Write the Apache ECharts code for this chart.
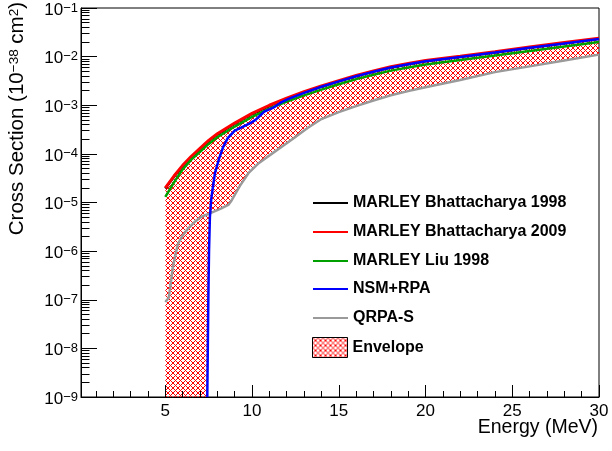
<!DOCTYPE html>
<html><head><meta charset="utf-8">
<script src="https://cdn.jsdelivr.net/npm/echarts@6/dist/echarts.min.js"></script>
<style>html,body{margin:0;padding:0;background:#fff}#c{width:612px;height:451px}</style>
</head><body><div id="c"></div>
<script>
// ---------- data ----------
const marleyE   = [5,5.5,6,6.5,7,7.5,8,9,10,11,12,13,14,15,16,17,18,19,20,22,24,26,28,30];
const bhat1998  = [1.94e-5,3.4e-5,5.6e-5,8.6e-5,1.26e-4,1.84e-4,2.52e-4,4.17e-4,6.6e-4,9.7e-4,1.36e-3,1.84e-3,2.42e-3,3.1e-3,3.98e-3,4.95e-3,6.0e-3,7.0e-3,8.05e-3,9.9e-3,1.22e-2,1.53e-2,1.89e-2,2.33e-2];
const bhat2009  = [2.0e-5,3.5e-5,5.8e-5,8.9e-5,1.3e-4,1.9e-4,2.6e-4,4.3e-4,6.8e-4,1.0e-3,1.4e-3,1.9e-3,2.5e-3,3.2e-3,4.1e-3,5.1e-3,6.2e-3,7.2e-3,8.3e-3,1.02e-2,1.26e-2,1.58e-2,1.95e-2,2.4e-2];
const liu1998   = [1.3e-5,2.6e-5,4.8e-5,7.6e-5,1.1e-4,1.6e-4,2.2e-4,3.65e-4,5.75e-4,8.5e-4,1.19e-3,1.6e-3,2.1e-3,2.7e-3,3.45e-3,4.25e-3,5.15e-3,6.0e-3,6.9e-3,8.5e-3,1.05e-2,1.31e-2,1.62e-2,2.0e-2];
const nsmE      = [7.42,7.45,7.48,7.52,7.57,7.65,7.86,8.1,8.34,8.6,9.0,9.4,9.9,10.2,10.5,10.7,11.2,11.6,12.1,13,14,15,16,17,18,19,20,22,24,26,28,30];
const nsmRpa    = [1e-9,1e-8,1e-7,1e-6,5e-6,1.2e-5,4e-5,8e-5,1.4e-4,2.1e-4,3.0e-4,3.5e-4,4.3e-4,5.0e-4,6.3e-4,7.4e-4,8.8e-4,1.1e-3,1.35e-3,1.8e-3,2.4e-3,3.1e-3,3.95e-3,4.9e-3,6.0e-3,6.95e-3,8.0e-3,9.8e-3,1.21e-2,1.52e-2,1.87e-2,2.3e-2];
const qrpaE     = [5.0,5.2,5.3,5.44,5.6,5.73,6.0,6.31,6.7,7.08,7.57,8.2,8.63,8.82,9.3,9.79,10.4,11.13,12.4,13.2,14,15,16,17,18,19,20,22,24,26,28,30];
const qrpaS     = [9e-8,1.1e-7,2.0e-7,4.8e-7,9e-7,1.4e-6,2.1e-6,2.9e-6,4.0e-6,5.1e-6,6e-6,7.5e-6,8.9e-6,1.1e-5,2.2e-5,4e-5,6.5e-5,1.0e-4,2.1e-4,3.4e-4,5.2e-4,7.2e-4,9.6e-4,1.25e-3,1.6e-3,1.95e-3,2.35e-3,3.3e-3,4.8e-3,6.3e-3,8.3e-3,1.1e-2];
const envBottomE = [5,7.42,7.45,7.48,7.52,7.57,8.2,8.63,8.82,9.3,9.79,10.4,11.13,12.4,13.2,14,15,16,17,18,19,20,22,24,26,28,30];
const envBottom  = [1e-9,1e-9,1e-8,1e-7,1e-6,6e-6,7.5e-6,8.9e-6,1.1e-5,2.2e-5,4e-5,6.5e-5,1.0e-4,2.1e-4,3.4e-4,5.2e-4,7.2e-4,9.6e-4,1.25e-3,1.6e-3,1.95e-3,2.35e-3,3.3e-3,4.8e-3,6.3e-3,8.3e-3,1.1e-2];
const xMajorTicks = [5,10,15,20,25,30];
const xMinorTicks = [1,2,3,4,6,7,8,9,11,12,13,14,16,17,18,19,21,22,23,24,26,27,28,29];
const yDecades = [1e-9,1e-8,1e-7,1e-6,1e-5,1e-4,1e-3,1e-2,1e-1];
const yMinorTicks = [];
yDecades.slice(0,-1).forEach(d => { for (let m = 2; m <= 9; m++) yMinorTicks.push(+(m*d).toPrecision(3)); });
const legendNames = ['MARLEY Bhattacharya 1998','MARLEY Bhattacharya 2009','MARLEY Liu 1998','NSM+RPA','QRPA-S','Envelope'];
const legendTops  = [195, 224, 253, 281, 310, 337];

const FONT = 'Liberation Sans, Arial, Helvetica, sans-serif';
const pairs = (xs, ys) => xs.map((x, i) => [x, ys[i]]);

function makeHatch() {
  const s = 5, c = document.createElement('canvas');
  c.width = s; c.height = s;
  const g = c.getContext('2d');
  const img = g.createImageData(s, s);
  for (let y = 0; y < s; y++) for (let x = 0; x < s; x++) {
    const k = (y*s + x)*4;
    if ((x + y) % s === 0 || ((x - y) % s + s) % s === 0) {
      img.data[k] = 255; img.data[k+1] = 0; img.data[k+2] = 0; img.data[k+3] = 255;
    }
  }
  g.putImageData(img, 0, 0);
  return c;
}
const hatch = makeHatch();
const hatchFill = () => ({ image: hatch, repeat: 'repeat' });

const chart = echarts.init(document.getElementById('c'), null, { renderer: 'canvas' });
const lineSeries = (name, xs, ys, color, w, z) => ({
  name, type: 'line', data: pairs(xs, ys), symbol: 'none', showSymbol: false,
  lineStyle: { color, width: w }, itemStyle: { color }, z, clip: true, animation: false
});

const legends = legendNames.map((n, i) => ({
  orient: 'vertical', left: 312, top: legendTops[i], padding: 0, itemWidth: 35, itemHeight: 20,
  selectedMode: false,
  textStyle: { fontSize: 16, fontWeight: 'bold', color: '#000', fontFamily: FONT },
  data: [n === 'Envelope'
    ? { name: n, icon: 'rect', itemStyle: { color: hatchFill(), borderColor: '#000', borderWidth: 1, opacity: 1 } }
    : { name: n, itemStyle: { opacity: 0 } }]
}));

chart.setOption({
  animation: false,
  backgroundColor: '#fff',
  grid: { left: 81, right: 13, top: 8, bottom: 54, show: true, borderColor: '#000', borderWidth: 1, outerBoundsMode: 'none', containLabel: false },
  xAxis: [{
    type: 'value', min: 0.14, max: 30, position: 'bottom', z: 5,
    axisLine: { onZero: false, lineStyle: { color: '#000', width: 1 } },
    axisTick: { inside: true, length: 12, customValues: xMajorTicks, lineStyle: { color: '#000' } },
    axisLabel: { customValues: xMajorTicks, margin: 6, fontSize: 17, color: '#000', fontFamily: FONT },
    splitLine: { show: false }
  }, {
    type: 'value', min: 0.14, max: 30, position: 'bottom', z: 5,
    axisLine: { show: false, onZero: false },
    axisTick: { inside: true, length: 6, customValues: xMinorTicks, lineStyle: { color: '#000' } },
    axisLabel: { show: false }, splitLine: { show: false }
  }],
  yAxis: [{
    type: 'log', logBase: 10, min: 1e-9, max: 1e-1, position: 'left', z: 5,
    axisLine: { onZero: false, lineStyle: { color: '#000', width: 1 } },
    axisTick: { inside: true, length: 16, customValues: yDecades, lineStyle: { color: '#000' } },
    axisLabel: {
      customValues: yDecades, margin: 3, padding: [4, 0, 0, 0], hideOverlap: false,
      formatter: v => '{b|10}{s|\u2212' + Math.abs(Math.round(Math.log10(v))) + '}',
      rich: {
        b: { fontSize: 17, lineHeight: 17, padding: [4, 0, 0, 0], verticalAlign: 'bottom', fontFamily: FONT, color: '#000' },
        s: { fontSize: 13, lineHeight: 13, verticalAlign: 'top', fontFamily: FONT, color: '#000' }
      }
    },
    splitLine: { show: false }
  }, {
    type: 'log', logBase: 10, min: 1e-9, max: 1e-1, position: 'left', z: 5,
    axisLine: { show: false, onZero: false },
    axisTick: { inside: true, length: 8.5, customValues: yMinorTicks, lineStyle: { color: '#000' } },
    axisLabel: { show: false }, splitLine: { show: false }
  }],
  legend: legends,
  graphic: [{
    type: 'text', x: 17.5, y: 2, rotation: Math.PI / 2, silent: true,
    style: {
      text: '{m|Cross Section (10}{s|\u221238}{m| cm}{s|2}{m|)}',
      align: 'right', verticalAlign: 'middle', fill: '#000', fontFamily: FONT, fontSize: 20,
      rich: {
        m: { fontSize: 20.5, lineHeight: 20, padding: [8, 0, 0, 0], verticalAlign: 'bottom', fontFamily: FONT, fill: '#000' },
        s: { fontSize: 13.5, lineHeight: 13, verticalAlign: 'top', fontFamily: FONT, fill: '#000' }
      }
    }
  }, {
    type: 'text', x: 598, y: 428, silent: true,
    style: { text: 'Energy (MeV)', align: 'right', verticalAlign: 'middle', fill: '#000', fontFamily: FONT, fontSize: 19.5 }
  }],
  series: [
    {
      name: 'Envelope', type: 'custom', data: [[15, 1e-4]], encode: { x: 0, y: 1 }, clip: true, z: 1,
      itemStyle: { color: hatchFill() },
      renderItem: function (params, api) {
        if (params.dataIndex !== 0) return;
        const pts = [];
        for (let i = 0; i < marleyE.length; i++) pts.push(api.coord([marleyE[i], bhat2009[i]]));
        for (let i = envBottomE.length - 1; i >= 0; i--) pts.push(api.coord([envBottomE[i], envBottom[i]]));
        return { type: 'polygon', shape: { points: pts }, style: { fill: hatchFill(), stroke: null } };
      }
    },
    lineSeries('QRPA-S', qrpaE, qrpaS, '#9a9a9a', 2.5, 2),
    lineSeries('MARLEY Bhattacharya 1998', marleyE, bhat1998, '#000000', 2.5, 3),
    lineSeries('MARLEY Bhattacharya 2009', marleyE, bhat2009, '#ff0000', 3, 4),
    lineSeries('MARLEY Liu 1998', marleyE, liu1998, '#00a000', 2.5, 5),
    lineSeries('NSM+RPA', nsmE, nsmRpa, '#0000ff', 2.5, 6)
  ]
});
</script></body></html>
